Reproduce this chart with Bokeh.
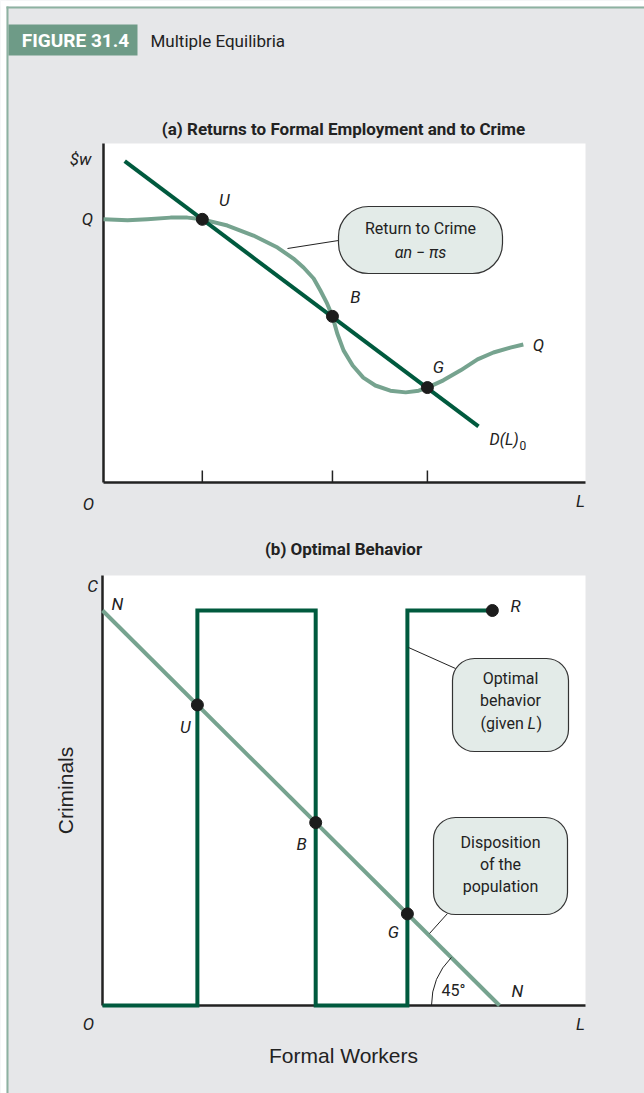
import numpy as np
from bokeh.plotting import figure
from bokeh.models import Range1d, Label
from bokeh.embed import file_html
from bokeh.resources import INLINE

# ---------------- data : panel (a) ----------------
demand_L = [0.44, 7.78]          # D(L)0 end points
demand_w = [9.34, 1.63]
crime_L = [0.00, 0.50, 0.91, 1.39, 1.74, 2.05, 2.57, 3.11, 3.61, 3.94, 4.15, 4.36, 4.50, 4.63,
           4.75, 4.85, 4.98, 5.17, 5.39, 5.64, 5.95, 6.27, 6.54, 6.72, 7.05, 7.41, 7.76, 8.09,
           8.44, 8.71]
crime_w = [7.65, 7.62, 7.65, 7.70, 7.70, 7.65, 7.47, 7.18, 6.83, 6.51, 6.25, 5.93, 5.58, 5.23,
           4.83, 4.33, 3.84, 3.40, 3.05, 2.82, 2.67, 2.62, 2.67, 2.76, 2.97, 3.26, 3.58, 3.78,
           3.92, 4.01]
eq_names = ["U", "B", "G"]
eq_L = [2.05, 4.75, 6.72]
eq_w = [7.65, 4.83, 2.76]

# ---------------- data : panel (b) ----------------
population = 10.0                      # N
switch_workers = [2.39, 5.37, 7.68]    # U, B, G thresholds
r_workers = 9.82                       # point R

# ---------------- style ----------------
GRAY = "#e6e7e9"
WHITE = "#ffffff"
DARK = "#005a3e"
LIGHT = "#76a38f"
BOXF = "#e3ebe8"
HEAD = "#6e9b87"
EDGE = "#8db2a1"
TXT = "#222222"
COND = "Roboto"
SANS = "Liberation Sans"

W, H = 644, 1093

# page-pixel -> data helpers (panel a: default ranges)
A_X0, A_SX, A_Y0, A_SY = 103, 48.2, 482, 34.4
def ax(px): return (px - A_X0) / A_SX
def ay(py): return (A_Y0 - py) / A_SY

# panel b: extra ranges "b"
B_X0, B_SX, B_Y0, B_SY = 102, 39.7, 1005, 39.5
def bx(px): return (px - B_X0) / B_SX
def by(py): return (B_Y0 - py) / B_SY

p = figure(width=W, height=H,
           x_range=Range1d(ax(0), ax(W)), y_range=Range1d(ay(H), ay(0)),
           x_axis_location=None, y_axis_location=None,
           output_backend="svg", toolbar_location=None, min_border=0,
           background_fill_color=GRAY, border_fill_color=GRAY, outline_line_color=None)
p.extra_x_ranges = {"b": Range1d(bx(0), bx(W))}
p.extra_y_ranges = {"b": Range1d(by(H), by(0))}
p.grid.visible = False
B = dict(x_range_name="b", y_range_name="b")


def lab(x, y, text, size=17, style="normal", align="center", font=COND, color=TXT,
        angle=0.0, panel="a"):
    kw = B if panel == "b" else {}
    p.add_layout(Label(x=x, y=y, text=text, text_font=font, text_font_size=f"{size}px",
                       text_font_style=style, text_align=align, text_baseline="middle",
                       text_color=color, angle=angle, **kw))


# page margin, frame edges and header
p.quad(left=ax(0), right=ax(6), top=ay(0), bottom=ay(H), fill_color=WHITE, line_color=None)
p.quad(left=ax(0), right=ax(W), top=ay(0), bottom=ay(6), fill_color=WHITE, line_color=None)
p.quad(left=ax(6), right=ax(8), top=ay(6), bottom=ay(H), fill_color=EDGE, line_color=None)
p.quad(left=ax(6), right=ax(W), top=ay(6), bottom=ay(8), fill_color=EDGE, line_color=None)
p.quad(left=ax(8), right=ax(137), top=ay(24), bottom=ay(55), fill_color=HEAD, line_color=None)
lab(ax(75), ay(40), "FIGURE 31.4", size=19, style="bold", color=WHITE)
lab(ax(150), ay(40), "Multiple Equilibria", size=17, align="left")

# ================= panel (a) =================
lab(ax(343), ay(128), "(a) Returns to Formal Employment and to Crime", size=17, style="bold")
TOP_A = 143
p.quad(left=0, right=ax(585), bottom=0, top=ay(TOP_A), fill_color=WHITE, line_color=None)
p.line([0, 0], [0, ay(TOP_A)], line_color=TXT, line_width=2.5)
p.line([0, ax(585)], [0, 0], line_color=TXT, line_width=2.5)
p.segment(x0=eq_L, y0=[0] * 3, x1=eq_L, y1=[ay(470)] * 3, line_color=TXT, line_width=1.5)

# callout
p.segment(x0=[ax(287)], y0=[ay(248)], x1=[ax(338)], y1=[ay(240)], line_color=TXT, line_width=1)
p.quad(left=ax(338), right=ax(502), top=ay(206), bottom=ay(273), fill_color=BOXF,
       line_color="#333333", line_width=1.2, border_radius=30)
lab(ax(420), ay(228), "Return to Crime", size=16)
lab(ax(420), ay(252), "αn − πs", size=16, style="italic")

p.line(crime_L, crime_w, line_color=LIGHT, line_width=4, line_join="round")
p.line(demand_L, demand_w, line_color=DARK, line_width=4)
p.scatter(eq_L, eq_w, size=12, color="#1c1c1c")

lab(ax(80), ay(158), "$w", size=17, style="italic")
lab(ax(87), ay(218), "Q", size=17, style="italic")
for name, L_, w_, dxp, dyp in zip(eq_names, eq_L, eq_w, [22, 23, 11], [-19, -19, -21]):
    lab(L_ + dxp / A_SX, w_ - dyp / A_SY, name, size=17, style="italic")
lab(ax(538), ay(344), "Q", size=17, style="italic")
lab(ax(489), ay(439), "D(L)", size=16, style="italic", align="left")
lab(ax(519), ay(445), "0", size=12, align="left")
lab(ax(88), ay(503), "O", size=17, style="italic")
lab(ax(580), ay(500), "L", size=17, style="italic")

# ================= panel (b) =================
lab(bx(343), by(548), "(b) Optimal Behavior", size=17, style="bold", panel="b")
p.quad(left=0, right=bx(585), bottom=0, top=by(575), fill_color=WHITE, line_color=None, **B)
p.line([0, 0], [0, by(575)], line_color=TXT, line_width=2.5, **B)
p.line([0, bx(585)], [0, 0], line_color=TXT, line_width=2.5, **B)

s0, s1, s2 = switch_workers
N = population
step_x = [0, s0, s0, s1, s1, s2, s2, r_workers]
step_y = [0, 0, N, N, 0, 0, N, N]
p.line(step_x, step_y, line_color=DARK, line_width=4, line_join="miter", **B)
p.line([0, N], [N, 0], line_color=LIGHT, line_width=4, **B)
p.scatter(switch_workers, [N - s for s in switch_workers], size=12, color="#1c1c1c", **B)
p.scatter([r_workers], [N], size=12, color="#1c1c1c", **B)
p.arc(x=[N], y=[0], radius=68 / B_SX, start_angle=3 * np.pi / 4, end_angle=np.pi,
      line_color=TXT, line_width=1, **B)

# callouts
p.segment(x0=[bx(408)], y0=[by(647)], x1=[bx(455)], y1=[by(668)], line_color=TXT,
          line_width=1, **B)
p.quad(left=bx(452), right=bx(568), top=by(658), bottom=by(751), fill_color=BOXF,
       line_color="#333333", line_width=1.2, border_radius=22, **B)
lab(bx(510), by(678), "Optimal", size=16, panel="b")
lab(bx(510), by(700), "behavior", size=16, panel="b")
lab(bx(480), by(723), "(given", size=16, align="left", panel="b")
lab(bx(527), by(723), "L", size=16, style="italic", align="left", panel="b")
lab(bx(536), by(723), ")", size=16, align="left", panel="b")

p.segment(x0=[bx(447)], y0=[by(913)], x1=[bx(429)], y1=[by(933)], line_color=TXT,
          line_width=1, **B)
p.quad(left=bx(433), right=bx(567), top=by(817), bottom=by(914), fill_color=BOXF,
       line_color="#333333", line_width=1.2, border_radius=22, **B)
lab(bx(500), by(842), "Disposition", size=16, panel="b")
lab(bx(500), by(864), "of the", size=16, panel="b")
lab(bx(500), by(886), "population", size=16, panel="b")

lab(bx(92), by(585), "C", size=17, style="italic", panel="b")
lab(bx(117), by(603), "N", size=17, style="italic", panel="b")
lab(bx(515), by(605), "R", size=17, style="italic", panel="b")
for name, s, dxp, dyp in zip(eq_names, switch_workers, [-12, -14, -14], [22, 21, 18]):
    lab(s + dxp / B_SX, N - s - dyp / B_SY, name, size=17, style="italic", panel="b")
lab(bx(453), by(990), "45°", size=16, panel="b")
lab(bx(517), by(990), "N", size=17, style="italic", panel="b")
lab(bx(88), by(1023), "O", size=17, style="italic", panel="b")
lab(bx(580), by(1023), "L", size=17, style="italic", panel="b")
lab(bx(343), by(1055), "Formal Workers", size=21, font=SANS, panel="b")
lab(bx(65), by(790), "Criminals", size=21, font=SANS, angle=np.pi / 2, panel="b")

open("out.html", "w").write(file_html(p, INLINE))
